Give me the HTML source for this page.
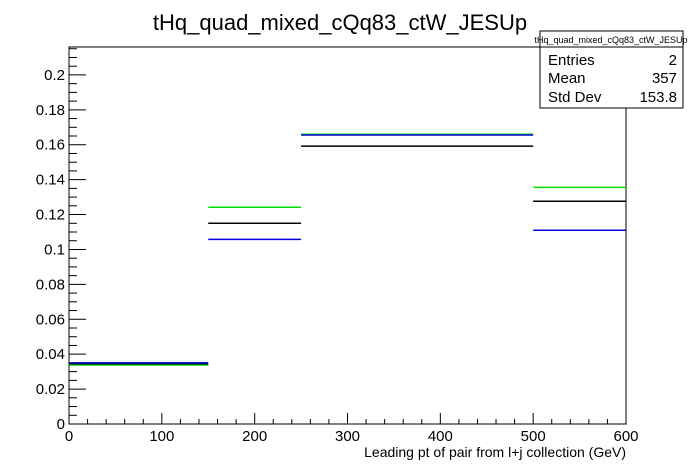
<!DOCTYPE html>
<html><head><meta charset="utf-8"><style>
body{margin:0;background:#fff;}
svg{display:block;font-family:"Liberation Sans",Arial,sans-serif;}
</style></head><body>
<svg id="c" width="696" height="472" viewBox="0 0 696 472">
<rect width="696" height="472" fill="#fff"/>
<text x="340" y="30" font-size="22" text-anchor="middle">tHq_quad_mixed_cQq83_ctW_JESUp</text>
<rect x="69" y="47" width="557" height="377" fill="none" stroke="#000" stroke-width="1"/>
<g id="axes"></g>
<g id="marks"></g>
<text x="626" y="457" font-size="14" text-anchor="end">Leading pt of pair from l+j collection (GeV)</text>
<g>
<rect x="540" y="31" width="143" height="77" fill="#fff" stroke="#000"/>
<line x1="540" y1="47" x2="683" y2="47" stroke="#000"/>
<text x="611" y="43" font-size="9" text-anchor="middle">tHq_quad_mixed_cQq83_ctW_JESUp</text>
<text x="548" y="65" font-size="15">Entries</text><text x="677" y="65" font-size="15" text-anchor="end">2</text>
<text x="548" y="83" font-size="15">Mean</text><text x="677" y="83" font-size="15" text-anchor="end">357</text>
<text x="548" y="102" font-size="15">Std Dev</text><text x="677" y="102" font-size="15" text-anchor="end">153.8</text>
</g>
</svg>
<script>
const binEdges=[0,150,250,500,600];
const seriesGreen=[0.0338,0.1242,0.1660,0.1356];
const seriesBlack=[0.0345,0.1150,0.1592,0.1276];
const seriesBlue=[0.0350,0.1058,0.1656,0.1110];
const yTicks=[0,0.02,0.04,0.06,0.08,0.1,0.12,0.14,0.16,0.18,0.2];
const yTickLabels=["0","0.02","0.04","0.06","0.08","0.1","0.12","0.14","0.16","0.18","0.2"];
const xTicks=[0,100,200,300,400,500,600];
const xTickLabels=["0","100","200","300","400","500","600"];
const X0=69,X1=626,Y0=424,Y1=47,XMAX=600,YMAX=0.216;
const sx=v=>X0+(X1-X0)*v/XMAX;
const sy=v=>Y0-(Y0-Y1)*v/YMAX;
const NS="http://www.w3.org/2000/svg";
const axes=document.getElementById('axes'),marks=document.getElementById('marks');
function ln(g,x1,y1,x2,y2,col,w){const l=document.createElementNS(NS,'line');l.setAttribute('x1',x1);l.setAttribute('y1',y1);l.setAttribute('x2',x2);l.setAttribute('y2',y2);l.setAttribute('stroke',col);l.setAttribute('stroke-width',w);g.appendChild(l);return l;}
function tx(g,x,y,s,anchor){const t=document.createElementNS(NS,'text');t.setAttribute('x',x);t.setAttribute('y',y);t.setAttribute('font-size','15');t.setAttribute('text-anchor',anchor);t.textContent=s;g.appendChild(t);return t;}
for(let v=0;v<=0.2151;v+=0.005){const major=Math.abs(v/0.02-Math.round(v/0.02))<1e-6;const y=sy(v);
const l=ln(axes,X0,y,X0+(major?17:8),y,'#000',1);

}
yTicks.forEach((v,i)=>{const t=tx(axes,X0-4,sy(v)+5,yTickLabels[i],'end');

});
for(let v=0;v<=600;v+=20){const major=v%100===0;const x=sx(v);
const l=ln(axes,x,Y0,x,Y0-(major?11:5),'#000',1);

}
xTicks.forEach((v,i)=>{const t=tx(axes,sx(v),Y0+17,xTickLabels[i],'middle');

});
[[seriesGreen,'#00dd00','green'],[seriesBlack,'#000','black'],[seriesBlue,'#0000dd','blue']].forEach(([s,c,n])=>{
s.forEach((v,i)=>{const y=sy(v);const l=ln(marks,sx(binEdges[i]),y,sx(binEdges[i+1]),y,c,1.5);

});});
</script>
</body></html>
